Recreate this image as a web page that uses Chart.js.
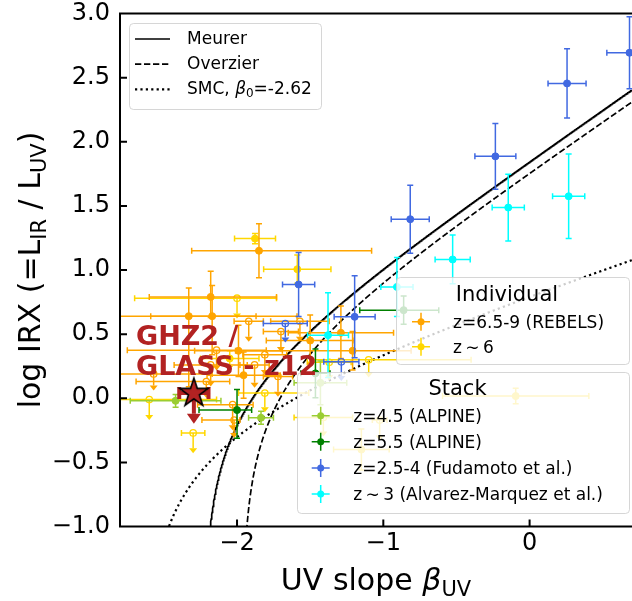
<!DOCTYPE html>
<html>
<head>
<meta charset="utf-8">
<script src="https://cdn.jsdelivr.net/npm/chart.js@4.4.0/dist/chart.umd.min.js"></script>
<style>
  html, body { margin: 0; padding: 0; background: #fff; }
</style>
</head>
<body>
<canvas id="irx" width="632" height="601"></canvas>
<script>
const FONT = '"DejaVu Sans", "Liberation Sans", sans-serif';

// axis ticks
const betaTicks = [-2, -1, 0];
const irxTicks = [-1, -0.5, 0, 0.5, 1, 1.5, 2, 2.5, 3];

// REBELS z=6.5-9, detections
const rebelsBeta = [-1.85, -2.18, -2.33, -2.17, -1.50, -1.29, -1.21, -1.99, -1.955];
const rebelsIrx = [1.15, 0.79, 0.64, 0.64, 0.45, 0.51, 0.37, 0.37, 0.18];
const rebelsBetaLo = [0.46, 0.42, 0.47, 0.42, 0.30, 0.36, 0.80, 0.30, 0.25];
const rebelsBetaHi = [0.77, 0.45, 0.46, 0.58, 0.30, 0.36, 0.40, 0.30, 0.25];
const rebelsIrxLo = [0.21, 0.16, 0.55, 0.30, 0.18, 0.20, 0.15, 0.20, 0.18];
const rebelsIrxHi = [0.21, 0.20, 0.22, 0.24, 0.20, 0.21, 0.15, 0.20, 0.18];

// REBELS upper limits
const rebelsUlBeta = [-2.18, -2.14, -2.57, -1.88, -1.81, -1.72, -2.03, -2.02, -2.21, -1.92, -1.57, -1.70];
const rebelsUlIrx = [0.26, 0.375, 0.19, 0.26, 0.34, 0.17, -0.05, -0.17, 0.13, 0.60, 0.60, 0.52];
const rebelsUlBetaLo = [0.25, 0.61, 0.25, 0.10, 0.15, 0.10, 0.24, 0.22, 0.48, 0.10, 0.20, 0.12];
const rebelsUlBetaHi = [0.25, 0.34, 0.40, 0.10, 0.15, 0.10, 0.14, 0.04, 0.16, 0.10, 0.20, 0.12];
const rebelsUlArrow = [0.13, 0.12, 0.09, 0.14, 0.12, 0.12, 0.16, 0.10, 0.09, 0.12, 0.12, 0.12];

// z~6, detections
const z6Beta = [-1.877, -1.588, -2.05, -0.095, -1.15];
const z6Irx = [1.245, 1.006, 0.31, 0.017, -0.40];
const z6BetaErr = [0.14, 0.23, 0.20, 0.50, 0.19];
const z6IrxErr = [0.04, 0.11, 0.06, 0.06, 0.16];

// z~6 upper limits
const z6UlBeta = [-2.0, -2.6, -2.30, -1.81, -1.41, -1.025, -1.10, -1.37];
const z6UlIrx = [0.78, -0.01, -0.27, 0.04, -0.15, -0.17, 0.30, 0.28];
const z6UlBetaLo = [0.70, 0.35, 0.08, 0.18, 0.20, 0.05, 0.40, 0.15];
const z6UlBetaHi = [0.27, 0.46, 0.08, 0.30, 0.20, 0.05, 0.70, 0.15];
const z6UlArrow = [0.12, 0.12, 0.12, 0.11, 0.11, 0.12, 0.10, 0.10];

// stacks: ALPINE z=4.5
const alp45Beta = [-1.836, -2.42, -1.43];
const alp45Irx = [-0.152, -0.02, 0.12];
const alp45BetaErr = [0.085, 0.31, 0.18];
const alp45IrxErr = [0.05, 0.05, 0.17];

// stacks: ALPINE z=5.5
const alp55Beta = [-2.0, -0.861, -1.464];
const alp55Irx = [-0.092, 0.687, 0.194];
const alp55BetaLo = [0.26, 0.30, 0.10];
const alp55BetaHi = [0.10, 0.24, 0.10];
const alp55IrxLo = [0.22, 0.11, 0.19];
const alp55IrxHi = [0.16, 0.11, 0.19];

// stacks: z=2.5-4 (Fudamoto et al.)
const fudBeta = [-0.234, 0.256, 0.683, -0.816, -1.579, -1.196];
const fudIrx = [1.886, 2.455, 2.694, 1.396, 0.887, 0.635];
const fudBetaErr = [0.14, 0.13, 0.155, 0.13, 0.11, 0.14];
const fudIrxErr = [0.256, 0.27, 0.28, 0.265, 0.25, 0.32];
const fudUlBeta = [-1.67, -1.287];
const fudUlIrx = [0.583, 0.284];
const fudUlBetaErr = [0.15, 0.12];
const fudUlArrow = [0.11, 0.11];

// stacks: z~3 (Alvarez-Marquez et al.)
const amBeta = [-1.378, -0.907, -0.526, -0.146, 0.267];
const amIrx = [0.492, 0.868, 1.082, 1.487, 1.575];
const amBetaErr = [0.14, 0.11, 0.12, 0.11, 0.11];
const amIrxErr = [0.33, 0.23, 0.19, 0.26, 0.33];

// GHZ2 / GLASS-z12
const ghzBeta = [-2.295];
const ghzIrx = [0.04];
const ghzBetaErr = [0.10];
const ghzArrow = [0.16];

// IRX-beta relations: log IRX = log10(10^(0.4 A1600) - 1) + logB, A1600 = a + b*beta
const meurer = { a: 4.43, b: 1.99, logB: 0.076 };
const overzier = { a: 3.85, b: 1.96, logB: 0.225 };
const smcBeta0 = -2.62;
const smc = { a: -0.95 * smcBeta0, b: 0.95, logB: -0.16 };

const COLORS = {
  rebels: '#FFA500', z6: '#FFD700', alp45: '#9ACD32', alp55: '#008000',
  fud: '#4169E1', am: '#00FFFF', ghz: '#B22222'
};

const DASHED = [6.3, 2.7];
const DOTTED = [2.2, 3.2];

function relation(rel) {
  const pts = [];
  for (let b = -2.8; b <= 0.701; b += 0.002) {
    const e = Math.pow(10, 0.4 * (rel.a + rel.b * b)) - 1;
    if (e <= 0) continue;
    const v = Math.log10(e) + rel.logB;
    if (v < -3) continue;
    pts.push({ x: b, y: v });
  }
  return pts;
}

function curve(label, rel, dash, width) {
  return {
    label, data: relation(rel), showLine: true, pointRadius: 0,
    borderColor: '#000', borderWidth: width || 1.7, borderDash: dash, borderCapStyle: 'butt',
    order: 10
  };
}

function points(label, beta, irx, color, o) {
  return {
    label,
    data: beta.map((b, i) => ({ x: b, y: irx[i] })),
    showLine: false,
    pointRadius: o.radius || 3.5,
    pointStyle: o.style || 'circle',
    pointBackgroundColor: o.open ? 'rgba(0,0,0,0)' : color,
    pointBorderColor: color,
    pointBorderWidth: o.open ? 1.3 : 1,
    order: o.order,
    errBars: {
      color, xlo: o.xlo, xhi: o.xhi || o.xlo, ylo: o.ylo, yhi: o.yhi || o.ylo,
      arrow: o.arrow, width: o.width, cap: o.cap, head: o.head
    }
  };
}

// star marker for GHZ2
const starImg = document.createElement('canvas');
starImg.width = 36; starImg.height = 36;
(function () {
  const c = starImg.getContext('2d');
  const R = 15, r = 15 * 0.382, cx = 18, cy = 18;
  c.beginPath();
  for (let k = 0; k < 10; k++) {
    const ang = -Math.PI / 2 + k * Math.PI / 5;
    const rad = k % 2 ? r : R;
    c.lineTo(cx + rad * Math.cos(ang), cy + rad * Math.sin(ang));
  }
  c.closePath();
  c.fillStyle = COLORS.ghz; c.fill();
  c.lineWidth = 1.6; c.strokeStyle = '#000'; c.stroke();
})();

function drawErrorBars(chart, ds) {
  const e = ds.errBars;
  if (!e) return;
  const { ctx, chartArea: a, scales: { x, y } } = chart;
  const cap = e.cap || 3;
  const head = e.head || [4, 5];
  ctx.save();
  ctx.beginPath();
  ctx.rect(a.left, a.top, a.right - a.left, a.bottom - a.top);
  ctx.clip();
  ctx.strokeStyle = e.color;
  ctx.fillStyle = e.color;
  ctx.lineWidth = e.width || 1.5;
  ds.data.forEach((p, i) => {
    const px = x.getPixelForValue(p.x), py = y.getPixelForValue(p.y);
    ctx.beginPath();
    if (e.xlo) {
      const x0 = x.getPixelForValue(p.x - e.xlo[i]), x1 = x.getPixelForValue(p.x + e.xhi[i]);
      ctx.moveTo(x0, py); ctx.lineTo(x1, py);
      ctx.moveTo(x0, py - cap); ctx.lineTo(x0, py + cap);
      ctx.moveTo(x1, py - cap); ctx.lineTo(x1, py + cap);
    }
    if (e.ylo) {
      const y0 = y.getPixelForValue(p.y - e.ylo[i]), y1 = y.getPixelForValue(p.y + e.yhi[i]);
      ctx.moveTo(px, y0); ctx.lineTo(px, y1);
      ctx.moveTo(px - cap, y0); ctx.lineTo(px + cap, y0);
      ctx.moveTo(px - cap, y1); ctx.lineTo(px + cap, y1);
    }
    let yEnd = null;
    if (e.arrow) {
      yEnd = y.getPixelForValue(p.y - e.arrow[i]);
      ctx.moveTo(px, py); ctx.lineTo(px, yEnd);
    }
    ctx.stroke();
    if (yEnd !== null) {
      ctx.beginPath();
      ctx.moveTo(px - head[0], yEnd);
      ctx.lineTo(px + head[0], yEnd);
      ctx.lineTo(px, yEnd + head[1]);
      ctx.closePath();
      ctx.fill();
    }
  });
  ctx.restore();
}

const errorBarPlugin = {
  id: 'errorBars',
  beforeDatasetDraw(chart, args) {
    drawErrorBars(chart, chart.data.datasets[args.index]);
  }
};

function font(size, italic, bold) {
  return (italic ? 'italic ' : '') + (bold ? 'bold ' : '') + size + 'px ' + FONT;
}

function richWidth(ctx, parts) {
  let w = 0;
  parts.forEach(p => { ctx.font = font(p.size, p.italic); w += ctx.measureText(p.text).width; });
  return w;
}

function drawRich(ctx, parts, x, y, align) {
  let cx = align === 'center' ? x - richWidth(ctx, parts) / 2 : x;
  ctx.textAlign = 'left';
  ctx.textBaseline = 'alphabetic';
  parts.forEach(p => {
    ctx.font = font(p.size, p.italic);
    ctx.fillText(p.text, cx, y + (p.dy || 0));
    cx += ctx.measureText(p.text).width;
  });
}

function legendBox(ctx, x0, y0, x1, y1) {
  ctx.beginPath();
  ctx.roundRect(x0 + 0.5, y0 + 0.5, x1 - x0, y1 - y0, 4);
  ctx.fillStyle = 'rgba(255,255,255,0.8)';
  ctx.fill();
  ctx.strokeStyle = 'rgba(204,204,204,0.8)';
  ctx.lineWidth = 1;
  ctx.stroke();
}

function errSymbol(ctx, x, y, color) {
  ctx.strokeStyle = color;
  ctx.fillStyle = color;
  ctx.lineWidth = 1.5;
  ctx.beginPath();
  ctx.moveTo(x - 9, y); ctx.lineTo(x + 9, y);
  ctx.moveTo(x, y - 9); ctx.lineTo(x, y + 9);
  ctx.stroke();
  ctx.beginPath();
  ctx.arc(x, y, 3.5, 0, Math.PI * 2);
  ctx.fill();
}

const individualItems = [
  { text: 'z=6.5-9 (REBELS)', color: COLORS.rebels },
  { text: 'z\u2009\u223C\u20096', color: COLORS.z6 }
];
const stackItems = [
  { text: 'z=4.5 (ALPINE)', color: COLORS.alp45 },
  { text: 'z=5.5 (ALPINE)', color: COLORS.alp55 },
  { text: 'z=2.5-4 (Fudamoto et al.)', color: COLORS.fud },
  { text: 'z\u2009\u223C\u20093 (Alvarez-Marquez et al.)', color: COLORS.am }
];

const overlayPlugin = {
  id: 'overlay',
  afterDatasetsDraw(chart) {
    const { ctx, chartArea: a, scales: { x, y } } = chart;
    ctx.save();

    // frame and inward ticks
    ctx.strokeStyle = '#000';
    ctx.lineWidth = 2;
    ctx.beginPath();
    ctx.moveTo(a.right + 2, a.top); ctx.lineTo(a.left, a.top);
    ctx.lineTo(a.left, a.bottom); ctx.lineTo(a.right + 2, a.bottom);
    irxTicks.forEach(v => {
      const py = y.getPixelForValue(v);
      ctx.moveTo(a.left, py); ctx.lineTo(a.left + 7, py);
    });
    betaTicks.forEach(v => {
      const px = x.getPixelForValue(v);
      ctx.moveTo(px, a.bottom); ctx.lineTo(px, a.bottom - 7);
    });
    ctx.stroke();

    // relations legend
    legendBox(ctx, 129, 23, 321, 109);
    ctx.strokeStyle = '#000';
    [[[], 1.7], [DASHED, 1.7], [DOTTED, 2.2]].forEach((d, i) => {
      const ly = 39 + i * 25.2;
      ctx.lineWidth = d[1];
      ctx.setLineDash(d[0]);
      ctx.beginPath(); ctx.moveTo(135, ly); ctx.lineTo(170, ly); ctx.stroke();
    });
    ctx.setLineDash([]);
    ctx.fillStyle = '#000';
    drawRich(ctx, [{ text: 'Meurer', size: 17 }], 187, 43.5, 'left');
    drawRich(ctx, [{ text: 'Overzier', size: 17 }], 187, 68.5, 'left');
    drawRich(ctx, [
      { text: 'SMC, ', size: 17 }, { text: '\u03B2', size: 17, italic: true },
      { text: '0', size: 12, dy: 3 }, { text: '=-2.62', size: 17 }
    ], 187, 94.3, 'left');

    // individual galaxies legend
    legendBox(ctx, 396, 277, 629, 364);
    ctx.fillStyle = '#000';
    drawRich(ctx, [{ text: 'Individual', size: 21 }], 507, 301, 'center');
    individualItems.forEach((it, i) => {
      const base = 327.7 + i * 25;
      errSymbol(ctx, 421, base - 6, it.color);
      ctx.fillStyle = '#000';
      drawRich(ctx, [{ text: it.text, size: 17 }], 453, base, 'left');
    });

    // stacks legend
    legendBox(ctx, 297, 372, 629, 513);
    ctx.fillStyle = '#000';
    drawRich(ctx, [{ text: 'Stack', size: 21 }], 457.5, 395, 'center');
    stackItems.forEach((it, i) => {
      const base = 421.7 + i * 26.1;
      errSymbol(ctx, 320.7, base - 6, it.color);
      ctx.fillStyle = '#000';
      drawRich(ctx, [{ text: it.text, size: 17 }], 353.3, base, 'left');
    });

    // GHZ2 label
    ctx.fillStyle = COLORS.ghz;
    ctx.font = font(27, false, true);
    ctx.textAlign = 'left';
    ctx.textBaseline = 'alphabetic';
    ctx.fillText('GHZ2 /', 136, 345);
    ctx.fillText('GLASS - z12', 136, 375);

    ctx.restore();
  },
  afterDraw(chart) {
    const { ctx, chartArea: a } = chart;
    ctx.save();
    ctx.fillStyle = '#000';
    drawRich(ctx, [
      { text: 'UV slope ', size: 30 }, { text: '\u03B2', size: 30, italic: true },
      { text: 'UV', size: 21, dy: 6 }
    ], (a.left + a.right) / 2, 590, 'center');
    ctx.translate(40, (a.top + a.bottom) / 2);
    ctx.rotate(-Math.PI / 2);
    drawRich(ctx, [
      { text: 'log IRX (=L', size: 30 }, { text: 'IR', size: 21, dy: 6 },
      { text: ' / L', size: 30 }, { text: 'UV', size: 21, dy: 6 }, { text: ')', size: 30 }
    ], 0, 0, 'center');
    ctx.restore();
  }
};

const minus = v => (v < 0 ? '\u2212' : '');

new Chart(document.getElementById('irx'), {
  type: 'scatter',
  data: {
    datasets: [
      curve('Meurer', meurer, []),
      curve('Overzier', overzier, DASHED),
      curve('SMC', smc, DOTTED, 2.2),
      points('GHZ2 / GLASS-z12', ghzBeta, ghzIrx, COLORS.ghz, {
        style: starImg, radius: 15, order: 0, xlo: ghzBetaErr, arrow: ghzArrow,
        width: 4, cap: 6, head: [7, 10]
      }),
      points('z=2.5-4 (Fudamoto et al.)', fudBeta, fudIrx, COLORS.fud, { order: 2, xlo: fudBetaErr, ylo: fudIrxErr }),
      points('z=2.5-4 limits', fudUlBeta, fudUlIrx, COLORS.fud, { order: 2, open: true, radius: 3.2, xlo: fudUlBetaErr, arrow: fudUlArrow }),
      points('z~3 (Alvarez-Marquez et al.)', amBeta, amIrx, COLORS.am, { order: 2, xlo: amBetaErr, ylo: amIrxErr }),
      points('z=5.5 (ALPINE)', alp55Beta, alp55Irx, COLORS.alp55, {
        order: 2, xlo: alp55BetaLo, xhi: alp55BetaHi, ylo: alp55IrxLo, yhi: alp55IrxHi
      }),
      points('z=4.5 (ALPINE)', alp45Beta, alp45Irx, COLORS.alp45, { order: 2, xlo: alp45BetaErr, ylo: alp45IrxErr }),
      points('z=6.5-9 (REBELS)', rebelsBeta, rebelsIrx, COLORS.rebels, {
        order: 3, xlo: rebelsBetaLo, xhi: rebelsBetaHi, ylo: rebelsIrxLo, yhi: rebelsIrxHi
      }),
      points('z=6.5-9 limits', rebelsUlBeta, rebelsUlIrx, COLORS.rebels, {
        order: 4, open: true, radius: 3.2, xlo: rebelsUlBetaLo, xhi: rebelsUlBetaHi, arrow: rebelsUlArrow
      }),
      points('z~6', z6Beta, z6Irx, COLORS.z6, { order: 3, xlo: z6BetaErr, ylo: z6IrxErr }),
      points('z~6 limits', z6UlBeta, z6UlIrx, COLORS.z6, {
        order: 4, open: true, radius: 3.2, xlo: z6UlBetaLo, xhi: z6UlBetaHi, arrow: z6UlArrow
      })
    ]
  },
  options: {
    responsive: false,
    animation: false,
    events: [],
    layout: { autoPadding: false, padding: { top: 13.5, right: 0, bottom: 0, left: 0 } },
    plugins: { legend: { display: false }, tooltip: { enabled: false } },
    scales: {
      x: {
        type: 'linear', min: -2.8, max: 0.7,
        grid: { display: false, drawTicks: false },
        border: { display: false },
        ticks: {
          color: '#000', padding: 3, font: { family: FONT, size: 24 },
          callback: v => minus(v) + Math.abs(v)
        },
        afterBuildTicks: s => { s.ticks = betaTicks.map(v => ({ value: v })); },
        afterFit: s => { s.height = 74.5; s.paddingLeft = 0; s.paddingRight = 0; }
      },
      y: {
        type: 'linear', min: -1, max: 3,
        grid: { display: false, drawTicks: false },
        border: { display: false },
        ticks: {
          color: '#000', padding: 10, font: { family: FONT, size: 24, lineHeight: 1 },
          callback: v => minus(v) + Math.abs(v).toFixed(1)
        },
        afterBuildTicks: s => { s.ticks = irxTicks.map(v => ({ value: v })); },
        afterFit: s => { s.width = 120; s.paddingTop = 0; s.paddingBottom = 0; }
      }
    }
  },
  plugins: [errorBarPlugin, overlayPlugin]
});
</script>
</body>
</html>
